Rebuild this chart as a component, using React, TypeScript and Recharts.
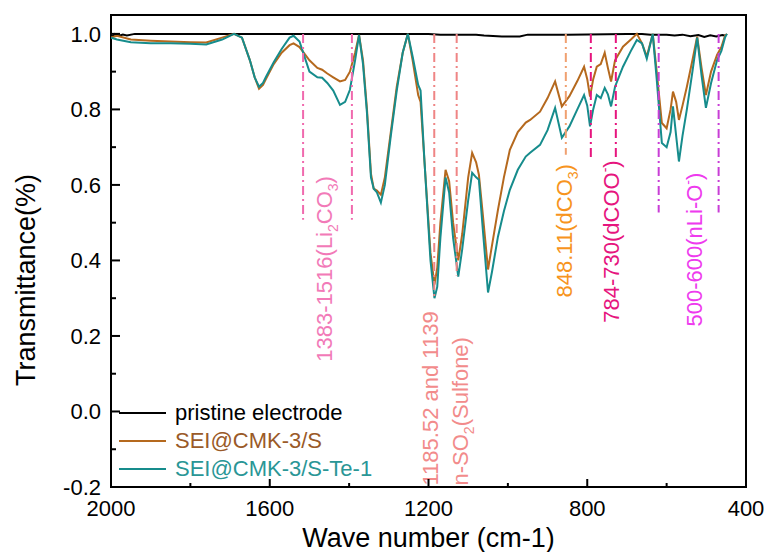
import { LineChart, Line, XAxis, YAxis, ReferenceLine, ReferenceArea, ReferenceDot, Legend, Label } from 'recharts';

const FONT = '"Liberation Sans", Arial, sans-serif';

// wave numbers (cm-1) shared by both SEI spectra
const WAVE = [
  2000, 1985, 1950, 1900, 1850, 1800, 1760, 1720, 1690, 1670,
  1650, 1638, 1627, 1617, 1610, 1590, 1570, 1550, 1540, 1525, 1500, 1480,
  1468, 1455, 1440, 1423, 1410, 1398, 1385, 1375, 1365, 1355,
  1345, 1338, 1330, 1320, 1310, 1295, 1280, 1265, 1252, 1240,
  1226, 1220, 1210, 1195, 1185, 1178, 1170, 1157, 1148, 1138,
  1125, 1115, 1100, 1090, 1080, 1073, 1063, 1050, 1040, 1025,
  1010, 995, 975, 955, 944, 919, 900, 881, 864, 845,
  825, 808, 800, 793, 785, 776, 766, 756, 748, 740,
  730, 710, 690, 675, 662, 650, 635, 625, 612, 600,
  590, 584, 576, 569, 560, 549, 535, 523, 512, 501,
  488, 473, 462, 453, 448,
];

const CMK3_S = [
  0.99, 0.995, 0.985, 0.982, 0.98, 0.978, 0.977, 0.99, 1.0, 0.99,
  0.93, 0.885, 0.855, 0.865, 0.88, 0.92, 0.95, 0.97, 0.975, 0.965, 0.93, 0.91,
  0.905, 0.895, 0.885, 0.874, 0.878, 0.9, 0.95, 0.997, 0.93, 0.8,
  0.63, 0.59, 0.585, 0.574, 0.62, 0.74, 0.86, 0.95, 1.0, 0.93,
  0.838, 0.82, 0.66, 0.42, 0.336, 0.38, 0.5, 0.64, 0.61, 0.5,
  0.4, 0.47, 0.62, 0.685, 0.66, 0.627, 0.52, 0.376, 0.44, 0.534,
  0.62, 0.693, 0.74, 0.765, 0.772, 0.794, 0.83, 0.874, 0.808, 0.835,
  0.875, 0.913, 0.88, 0.834, 0.88, 0.913, 0.92, 0.95, 0.91, 0.874,
  0.93, 0.966, 0.985, 1.0, 0.975, 0.94, 1.0, 0.9, 0.764, 0.75,
  0.8, 0.847, 0.82, 0.772, 0.81, 0.86, 0.93, 0.993, 0.91, 0.838,
  0.9, 0.944, 0.965, 0.995, 1.0,
];

const CMK3_S_TE = [
  0.99, 0.985, 0.978, 0.975, 0.975, 0.974, 0.972, 0.985, 1.0, 0.99,
  0.93, 0.885, 0.86, 0.87, 0.885, 0.925, 0.96, 0.99, 0.995, 0.98, 0.9, 0.885,
  0.884, 0.87, 0.85, 0.812, 0.82, 0.852, 0.93, 0.997, 0.92, 0.79,
  0.62, 0.59, 0.58, 0.553, 0.6, 0.73, 0.85, 0.95, 1.0, 0.94,
  0.865, 0.85, 0.66, 0.4, 0.3, 0.33, 0.46, 0.62, 0.58, 0.46,
  0.357, 0.43, 0.56, 0.632, 0.62, 0.614, 0.48, 0.315, 0.37, 0.463,
  0.53, 0.587, 0.64, 0.675, 0.685, 0.706, 0.745, 0.804, 0.725, 0.755,
  0.8, 0.838, 0.81, 0.755, 0.8, 0.838, 0.83, 0.857, 0.84, 0.808,
  0.86, 0.913, 0.955, 0.984, 0.975, 0.934, 1.0, 0.88, 0.711, 0.7,
  0.74, 0.808, 0.73, 0.662, 0.73, 0.8, 0.9, 0.99, 0.89, 0.804,
  0.87, 0.93, 0.955, 0.99, 1.0,
];

const PRISTINE_WAVE = [
  2000, 1990, 1980, 1970, 1960, 1940, 1900, 1700, 1200, 1170,
  1080, 1060, 1015, 970, 950, 850, 700, 662, 640, 600,
  580, 560, 540, 520, 505, 490, 475, 460, 450,
];
const PRISTINE = [
  0.99, 1.0, 0.995, 0.998, 0.996, 1.0, 1.0, 1.0, 1.0, 0.998,
  0.998, 0.996, 0.993, 0.993, 0.998, 0.998, 1.0, 1.0, 0.998, 0.998,
  0.996, 0.998, 0.994, 0.997, 0.992, 0.996, 0.993, 0.997, 0.995,
];

const X_TICKS = [2000, 1800, 1600, 1400, 1200, 1000, 800, 600, 400];
const X_LABELED = [2000, 1600, 1200, 800, 400];
const Y_TICKS = [-0.2, -0.1, 0, 0.1, 0.2, 0.3, 0.4, 0.5, 0.6, 0.7, 0.8, 0.9, 1.0];

const SERIES = [
  { name: 'pristine electrode', color: '#000000', text: '#000000' },
  { name: 'SEI@CMK-3/S', color: '#b5691e', text: '#9a5a28' },
  { name: 'SEI@CMK-3/S-Te-1', color: '#168c8c', text: '#2a9696' },
];

// dash-dot marker lines: wave number, lower end, colour
const MARKERS = [
  { x: 1516, low: 0.508, color: '#f06aae' },
  { x: 1393, low: 0.508, color: '#f06aae' },
  { x: 1185.5, low: 0.3, color: '#ef8585' },
  { x: 1129, low: 0.36, color: '#ef8585' },
  { x: 854, low: 0.68, color: '#f0a070' },
  { x: 791, low: 0.667, color: '#e6157e' },
  { x: 728, low: 0.667, color: '#e6157e' },
  { x: 620, low: 0.527, color: '#c83ed6' },
  { x: 469, low: 0.527, color: '#c83ed6' },
];

type Part = { t: string; sub?: boolean; sup?: boolean };

const NOTES: { x: number; y: number; color: string; parts: Part[] }[] = [
  { x: 1443, y: 0.132, color: '#f27ab8', parts: [{ t: '1383-1516(Li' }, { t: '2', sub: true }, { t: 'CO' }, { t: '3', sub: true }, { t: ')' }] },
  { x: 1176, y: -0.196, color: '#f28b8b', parts: [{ t: '1185.52 and 1139' }] },
  { x: 1100, y: -0.196, color: '#f28b8b', parts: [{ t: 'n-SO' }, { t: '2', sub: true }, { t: '(Sulfone)' }] },
  { x: 838, y: 0.302, color: '#f7941d', parts: [{ t: '848.11(dCO' }, { t: '3', sub: true }, { t: ')' }] },
  { x: 720, y: 0.235, color: '#e6157e', parts: [{ t: '784-730(dCOO' }, { t: '-', sup: true }, { t: ')' }] },
  { x: 511, y: 0.225, color: '#ee3aee', parts: [{ t: '500-600(nLi-O' }, { t: '-', sup: true }, { t: ')' }] },
];

const sampleS = WAVE.map((w, i) => ({ w, v: CMK3_S[i] }));
const sampleTe = WAVE.map((w, i) => ({ w, v: CMK3_S_TE[i] }));
const pristine = PRISTINE_WAVE.map((w, i) => ({ w, v: PRISTINE[i] }));

function XTick({ x, y, payload }: any) {
  const major = X_LABELED.includes(payload.value);
  return (
    <g>
      <line x1={x} x2={x} y1={y} y2={y - (major ? 8 : 4)} stroke="#000" strokeWidth={2} />
      {major && (
        <text x={x} y={y + 29} textAnchor="middle" fontSize={22} fontFamily={FONT} fill="#000">
          {payload.value}
        </text>
      )}
    </g>
  );
}

function YTick({ x, y, payload }: any) {
  const v = payload.value;
  const major = Math.round(v * 10) % 2 === 0;
  return (
    <g>
      <line x1={x} x2={x + (major ? 9 : 5)} y1={y} y2={y} stroke="#000" strokeWidth={2} />
      {major && (
        <text x={x - 10} y={y + 8} textAnchor="end" fontSize={22} fontFamily={FONT} fill="#000">
          {v.toFixed(1)}
        </text>
      )}
    </g>
  );
}

function VNote({ cx, cy, color, parts }: any) {
  let shift = 0;
  return (
    <text
      x={cx}
      y={cy}
      transform={`rotate(-90 ${cx} ${cy})`}
      fontSize={22}
      fontFamily={FONT}
      fill={color}
    >
      {parts.map((p: Part, i: number) => {
        const target = p.sub ? 6 : p.sup ? -9 : 0;
        const dy = target - shift;
        shift = target;
        return (
          <tspan key={i} dy={dy} fontSize={p.sub || p.sup ? 14 : 22}>
            {p.t}
          </tspan>
        );
      })}
    </text>
  );
}

function LegendBox() {
  return (
    <div style={{ fontFamily: FONT, fontSize: 22 }}>
      {SERIES.map((s) => (
        <div key={s.name} style={{ display: 'flex', alignItems: 'center', height: 28 }}>
          <svg width={47} height={4}>
            <line x1={0} x2={47} y1={2} y2={2} stroke={s.color} strokeWidth={2} />
          </svg>
          <span style={{ marginLeft: 9, color: s.text, lineHeight: '28px' }}>{s.name}</span>
        </div>
      ))}
    </div>
  );
}

export default function App() {
  return (
    <div style={{ position: 'absolute', left: 0, top: 0, background: '#fff' }}>
      <LineChart width={769} height={552} margin={{ top: 15, right: 23, left: 41, bottom: 25 }}>
        <XAxis
          dataKey="w"
          type="number"
          domain={[400, 2000]}
          reversed
          allowDataOverflow
          ticks={X_TICKS}
          interval={0}
          tickSize={0}
          tickMargin={0}
          tickLine={false}
          axisLine={false}
          tick={<XTick />}
          height={40}
        >
          <Label
            content={({ viewBox }: any) => (
              <text
                x={viewBox.x + viewBox.width / 2}
                y={viewBox.y + 60}
                textAnchor="middle"
                fontSize={27}
                fontFamily={FONT}
                fill="#000"
              >
                Wave number (cm-1)
              </text>
            )}
          />
        </XAxis>
        <YAxis
          type="number"
          domain={[-0.2, 1.05]}
          allowDataOverflow
          ticks={Y_TICKS}
          interval={0}
          tickSize={0}
          tickMargin={0}
          tickLine={false}
          axisLine={false}
          tick={<YTick />}
          width={70}
        >
          <Label
            content={({ viewBox }: any) => {
              const tx = viewBox.x + viewBox.width - 76;
              const ty = viewBox.y + viewBox.height / 2 + 29;
              return (
                <text
                  x={tx}
                  y={ty}
                  transform={`rotate(-90 ${tx} ${ty})`}
                  textAnchor="middle"
                  fontSize={27}
                  fontFamily={FONT}
                  fill="#000"
                >
                  Transmittance(%)
                </text>
              );
            }}
          />
        </YAxis>
        <ReferenceArea
          x1={400}
          x2={2000}
          y1={-0.2}
          y2={1.05}
          fill="none"
          stroke="#000"
          strokeWidth={2}
          ifOverflow="visible"
        />
        <Line data={pristine} dataKey="v" name={SERIES[0].name} stroke={SERIES[0].color} strokeWidth={2} dot={false} isAnimationActive={false} />
        <Line data={sampleS} dataKey="v" name={SERIES[1].name} stroke={SERIES[1].color} strokeWidth={2} dot={false} isAnimationActive={false} />
        <Line data={sampleTe} dataKey="v" name={SERIES[2].name} stroke={SERIES[2].color} strokeWidth={2} dot={false} isAnimationActive={false} />
        {MARKERS.map((m) => (
          <ReferenceLine
            key={m.x}
            segment={[{ x: m.x, y: 1.0 }, { x: m.x, y: m.low }]}
            stroke={m.color}
            strokeWidth={2}
            strokeDasharray="9 4 2 4"
            ifOverflow="visible"
          />
        ))}
        {NOTES.map((n) => (
          <ReferenceDot
            key={n.x}
            x={n.x}
            y={n.y}
            r={0}
            ifOverflow="visible"
            shape={(p: any) => <VNote cx={p.cx} cy={p.cy} color={n.color} parts={n.parts} />}
          />
        ))}
        <Legend
          layout="vertical"
          align="center"
          verticalAlign="middle"
          content={<LegendBox />}
          wrapperStyle={{ left: 119, top: 399, width: 'auto' }}
        />
      </LineChart>
    </div>
  );
}
